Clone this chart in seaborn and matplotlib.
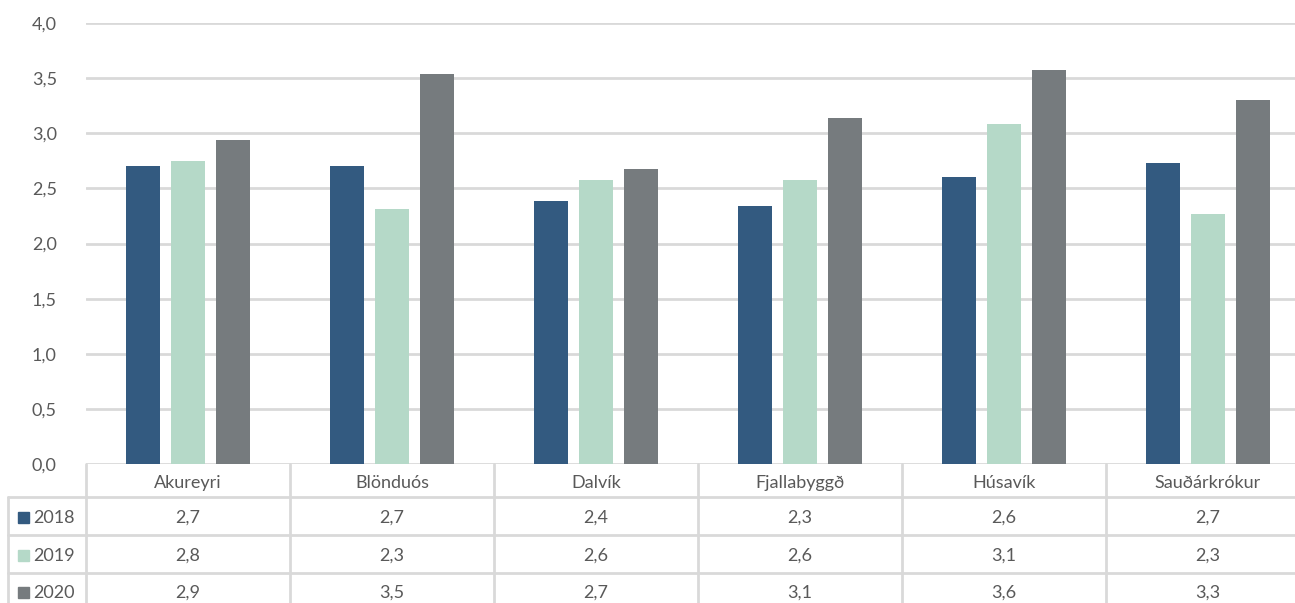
import pandas as pd
import numpy as np
import matplotlib.pyplot as plt
import matplotlib.transforms as mtransforms
import seaborn as sns

# ------------------ data ------------------ #
towns = ['Akureyri', 'Blönduós', 'Dalvík', 'Fjallabyggð', 'Húsavík', 'Sauðárkrókur']
years = ['2018', '2019', '2020']
v2018 = [2.70, 2.70, 2.39, 2.34, 2.60, 2.73]
v2019 = [2.75, 2.31, 2.58, 2.58, 3.08, 2.27]
v2020 = [2.94, 3.54, 2.68, 3.14, 3.57, 3.30]
colors = ['#335A80', '#B5D9C8', '#767B7E']

df = pd.DataFrame({
    'town': towns * 3,
    'year': [y for y in years for _ in towns],
    'value': v2018 + v2019 + v2020,
})

txt = '#595959'
grid = '#D9D9D9'
fs = 13

sns.set_style('white')
plt.rcParams['font.family'] = ['Lato', 'DejaVu Sans']

W, H = 1295, 603
fig = plt.figure(figsize=(W / 100, H / 100), dpi=100)

# main plot area (right edge runs a little past the image, as in the reference)
ax = fig.add_axes([86 / W, (H - 464) / H, (1310 - 86) / W, (464 - 23) / H])
sns.barplot(data=df, x='town', y='value', hue='year', palette=colors,
            width=0.66, gap=0.23, saturation=1, errorbar=None, ax=ax,
            legend=False, zorder=3, linewidth=0)
ax.set_xlim(-0.5, 5.5)
ax.set_ylim(0, 4)
ax.set_yticks(np.arange(0, 4.01, 0.5))
ax.set_yticklabels([f'{t:.1f}'.replace('.', ',') for t in np.arange(0, 4.01, 0.5)],
                   color=txt, fontsize=fs)
ax.tick_params(axis='y', length=0, pad=21)
ax.set_xticks([])
ax.set_xlabel('')
ax.set_ylabel('')
ax.grid(axis='y', color=grid, lw=2, zorder=0)
for s in ax.spines.values():
    s.set_visible(False)

# ------------------ data table under the chart ------------------ #
over = fig.add_axes([0, 0, 1, 1], facecolor='none')
over.set_xlim(0, W)
over.set_ylim(H, 0)
over.axis('off')
tr = mtransforms.blended_transform_factory(ax.transData, over.transData)

row_mid = [483, 518, 556, 593]

# horizontal lines
for yl in [497, 535, 573]:
    over.plot([8, W], [yl, yl], color=grid, lw=2, clip_on=False)
# vertical lines
over.plot([8, 8], [497, H], color=grid, lw=2)
for i in range(len(towns) + 1):
    over.plot([i - 0.5, i - 0.5], [464, H], color=grid, lw=2, transform=tr, clip_on=False)

for i, t in enumerate(towns):
    over.text(i, row_mid[0], t, transform=tr, ha='center', va='center',
              color=txt, fontsize=fs)

series = [v2018, v2019, v2020]
for r, (yr, vals, c) in enumerate(zip(years, series, colors)):
    ym = row_mid[r + 1]
    over.add_patch(plt.Rectangle((18, ym - 6), 11, 11, color=c))
    over.text(33, ym, yr, ha='left', va='center', color=txt, fontsize=fs)
    for i, v in enumerate(vals):
        over.text(i, ym, f'{v:.1f}'.replace('.', ','), transform=tr,
                  ha='center', va='center', color=txt, fontsize=fs)

fig.savefig('out.png', dpi=100)
